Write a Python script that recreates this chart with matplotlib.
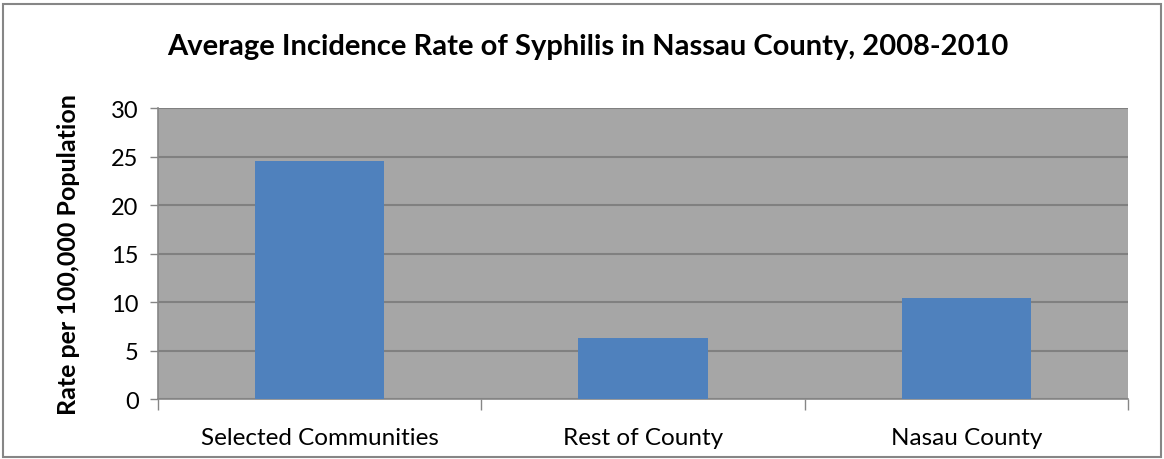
import numpy as np
import matplotlib.pyplot as plt
from matplotlib.patches import Rectangle

# data
categories = ['Selected Communities', 'Rest of County', 'Nasau County']
rates = [24.5, 6.3, 10.4]
yticks = [0, 5, 10, 15, 20, 25, 30]

plt.rcParams['font.family'] = ['Lato', 'DejaVu Sans']

fig = plt.figure(figsize=(11.64, 4.6), dpi=100)
ax = fig.add_axes([0.1357, 0.1304, 0.8333, 0.6326])

x = np.arange(len(categories))
ax.bar(x, rates, width=0.4, color='#4f81bd', zorder=3)

ax.set_facecolor('#a6a6a6')
ax.set_xlim(-0.5, len(categories) - 0.5)
ax.set_ylim(0, 30)
ax.set_yticks(yticks)
ax.yaxis.grid(True, color='#808080', linewidth=1.5, zorder=1)
ax.set_axisbelow(True)

# category labels centred, tick marks on the boundaries
ax.set_xticks(x)
ax.set_xticklabels(categories, fontsize=17.5)
ax.tick_params(axis='x', length=0, pad=20)
ax.set_xticks(np.arange(-0.5, len(categories)), minor=True)
ax.tick_params(axis='x', which='minor', length=8, color='#868686', width=1)
ax.tick_params(axis='y', length=6, color='#868686', width=1, labelsize=17, pad=8)

for s in ['top', 'right']:
    ax.spines[s].set_visible(False)
for s in ['left', 'bottom']:
    ax.spines[s].set_color('#868686')
    ax.spines[s].set_linewidth(1.2)

ax.set_ylabel('Rate per 100,000 Population', fontsize=18, fontweight='bold', labelpad=22)
fig.text(0.505, 0.897, 'Average Incidence Rate of Syphilis in Nassau County, 2008-2010',
         ha='center', va='center', fontsize=21, fontweight='bold')

# outer chart border
fig.patches.append(Rectangle((0.003, 0.004), 0.994, 0.985, transform=fig.transFigure,
                             fill=False, edgecolor='#868686', linewidth=1.5))

fig.savefig('out.png', dpi=100)
